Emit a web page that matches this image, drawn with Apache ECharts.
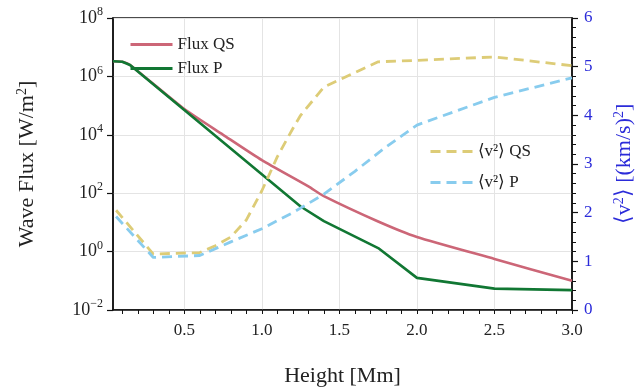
<!DOCTYPE html>
<html><head><meta charset="utf-8">
<script src="https://cdn.jsdelivr.net/npm/echarts@6/dist/echarts.min.js"></script>
<style>html,body{margin:0;padding:0;background:#fff}#c{width:643px;height:392px}</style>
</head><body><div id="c"></div>
<script>
const fluxQsH = [0.04, 0.1, 0.15, 0.5, 0.75, 1.0, 1.3, 1.4, 1.75, 2.0, 2.5, 3.0];
const fluxQsV = [3.3e6, 3.16e6, 2.45e6, 7.6e4, 1.0e4, 1350, 170, 79, 10.7, 3.16, 0.56, 0.1];
const fluxPH = [0.04, 0.1, 0.15, 1.25, 1.4, 1.75, 2.0, 2.5, 3.0];
const fluxPV = [3.3e6, 3.16e6, 2.45e6, 35, 11, 1.32, 0.126, 0.054, 0.048];
const v2QsH = [0.06, 0.3, 0.6, 0.7, 0.8, 0.9, 1.0, 1.1, 1.2, 1.25, 1.4, 1.75, 2.0, 2.5, 3.0];
const v2QsV = [2.05, 1.15, 1.18, 1.32, 1.5, 1.85, 2.45, 3.15, 3.73, 4.0, 4.58, 5.1, 5.13, 5.2, 5.02];
const v2PH = [0.06, 0.3, 0.6, 0.8, 1.0, 1.2, 1.4, 1.6, 1.8, 2.0, 2.5, 3.0];
const v2PV = [1.92, 1.08, 1.12, 1.4, 1.67, 2.0, 2.38, 2.85, 3.35, 3.8, 4.37, 4.77];
const xTicks = [0.5, 1.0, 1.5, 2.0, 2.5, 3.0];
const xAllTicks = [0.1,0.2,0.3,0.4,0.5,0.6,0.7,0.8,0.9,1.0,1.1,1.2,1.3,1.4,1.5,1.6,1.7,1.8,1.9,2.0,2.1,2.2,2.3,2.4,2.5,2.6,2.7,2.8,2.9,3.0];

const pairs = (h, v) => h.map((x, i) => [x, v[i]]);
const serif = 'Liberation Serif';
const blue = '#2b2bd9';
const chart = echarts.init(document.getElementById('c'));
chart.setOption({
  animation: false,
  grid: {left: 113, right: 70, top: 18, bottom: 79, show: true, borderColor: '#111', borderWidth: 1.5, backgroundColor: 'transparent'},
  legend: [
    {data: ['Flux QS', 'Flux P'], orient: 'vertical', left: 124, top: 31, itemWidth: 42, itemHeight: 14, itemGap: 7,
     itemStyle: {opacity: 0}, lineStyle: {width: 3}, textStyle: {fontFamily: serif, fontSize: 17, color: '#222'}},
    {data: ['⟨v²⟩ QS', '⟨v²⟩ P'], orient: 'vertical', left: 424, top: 138, itemWidth: 42, itemHeight: 14, itemGap: 14,
     itemStyle: {opacity: 0}, lineStyle: {width: 3}, textStyle: {fontFamily: serif, fontSize: 17, color: '#222'}}
  ],
  xAxis: [
    {type: 'value', min: 0.04, max: 3.0, position: 'bottom',
     name: 'Height [Mm]', nameLocation: 'middle', nameGap: 55,
     nameTextStyle: {fontFamily: serif, fontSize: 22, color: '#222'},
     axisLine: {show: true, onZero: false, lineStyle: {color: '#111', width: 1.5}},
     axisTick: {show: true, inside: false, length: 4, customValues: xAllTicks, lineStyle: {color: '#111', width: 1}},
     axisLabel: {customValues: xTicks, margin: 12, fontFamily: serif, fontSize: 17, color: '#222', formatter: v => v.toFixed(1)},
     splitLine: {show: false}}
  ],
  yAxis: [
    {type: 'log', logBase: 100, min: 1e-2, max: 1e8, position: 'left',
     name: 'Wave Flux [W/m{s|2}]', nameLocation: 'middle', nameGap: 74, nameRotate: 90,
     nameTextStyle: {fontFamily: serif, fontSize: 22, color: '#222', rich: {s: {fontFamily: serif, fontSize: 14, verticalAlign: 'top', padding: [0, 0, 10, 0]}}},
     axisLine: {show: true, lineStyle: {color: '#111', width: 1.5}},
     axisTick: {show: true, length: 6, lineStyle: {color: '#111', width: 1.2}},
     axisLabel: {margin: 10, fontFamily: serif, fontSize: 18, color: '#222',
       formatter: v => { const e = Math.round(Math.log10(v)); return '10{s|' + (e < 0 ? '−' + (-e) : e) + '}'; },
       rich: {s: {fontFamily: serif, fontSize: 12, verticalAlign: 'top', padding: [0, 0, 12, 0]}}},
     splitLine: {show: true, lineStyle: {color: '#e4e4e4', width: 1}}},
    {type: 'value', min: 0, max: 6, interval: 1, position: 'right',
     name: '⟨v{s|2}⟩ [(km/s){s|2}]', nameLocation: 'middle', nameGap: 40, nameRotate: 90,
     nameTextStyle: {fontFamily: serif, fontSize: 22, color: blue, rich: {s: {fontFamily: serif, fontSize: 14, color: blue, verticalAlign: 'top', padding: [0, 0, 10, 0]}}},
     axisLine: {show: true, lineStyle: {color: '#111', width: 1.5}},
     axisTick: {show: true, length: 6, lineStyle: {color: '#111', width: 1.2}},
     minorTick: {show: true, splitNumber: 5, length: 4, lineStyle: {color: '#111', width: 1}},
     axisLabel: {margin: 12, fontFamily: serif, fontSize: 17, color: blue},
     splitLine: {show: false}}
  ],
  series: [
    {name: 'Flux QS', type: 'line', yAxisIndex: 0, data: pairs(fluxQsH, fluxQsV), symbol: 'none', smooth: 0.2, z: 3,
     lineStyle: {color: '#cc6677', width: 2.6}, itemStyle: {color: '#cc6677'},
     markLine: {silent: true, symbol: 'none', label: {show: false}, z: 0,
       lineStyle: {color: '#e4e4e4', width: 1, type: 'solid'},
       data: xTicks.slice(0, -1).map(v => ({xAxis: v}))}},
    {name: 'Flux P', type: 'line', yAxisIndex: 0, data: pairs(fluxPH, fluxPV), symbol: 'none', z: 3,
     lineStyle: {color: '#117733', width: 2.6}, itemStyle: {color: '#117733'}},
    {name: '⟨v²⟩ QS', type: 'line', yAxisIndex: 1, data: pairs(v2QsH, v2QsV), symbol: 'none', z: 3,
     lineStyle: {color: '#ddcc77', width: 2.8, type: [10, 6]}, itemStyle: {color: '#ddcc77'}},
    {name: '⟨v²⟩ P', type: 'line', yAxisIndex: 1, data: pairs(v2PH, v2PV), symbol: 'none', z: 3,
     lineStyle: {color: '#88ccee', width: 2.8, type: [10, 6]}, itemStyle: {color: '#88ccee'}}
  ]
});
</script></body></html>
